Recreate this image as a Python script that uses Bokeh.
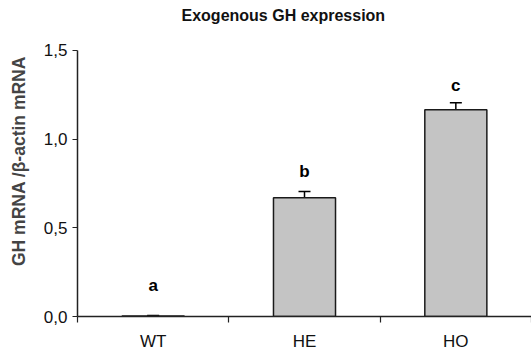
import numpy as np
from bokeh.plotting import figure
from bokeh.models import (ColumnDataSource, Whisker, TeeHead, Label, FixedTicker,
                          CustomJSTickFormatter)
from bokeh.core.properties import value
from bokeh.embed import file_html
from bokeh.resources import INLINE

# ---- data ----
categories = ["WT", "HE", "HO"]
means = [0.003, 0.67, 1.165]
errors = [0.002, 0.035, 0.04]
letters = ["a", "b", "c"]
letter_gap = [0.17, 0.115, 0.095]
title_text = "Exogenous GH expression"
y_label = "GH mRNA /\u03b2-actin mRNA"
y_ticks = [0.0, 0.5, 1.0, 1.5]

FONT = "Liberation Sans"

xpos = np.arange(len(categories)) + 0.5
means_a = np.array(means)
err_a = np.array(errors)
src = ColumnDataSource(dict(
    x=xpos, top=means_a, upper=means_a + err_a, lower=means_a - err_a,
    ly=means_a + err_a + np.array(letter_gap), letter=letters,
))

p = figure(width=531, height=354, output_backend="svg", toolbar_location=None,
           x_range=(0, len(categories)), y_range=(0, 1.753),
           min_border_left=77, min_border_right=0, min_border_top=5,
           min_border_bottom=38)
p.outline_line_color = None
p.xgrid.grid_line_color = None
p.ygrid.grid_line_color = None
p.background_fill_color = "white"
p.border_fill_color = "white"

p.vbar(x="x", top="top", width=0.41, bottom=0, source=src,
       fill_color="#c4c4c4", line_color="#1a1a1a", line_width=1.5)

w = Whisker(base="x", upper="upper", lower="lower", source=src,
            line_color="black", line_width=1.5,
            upper_head=TeeHead(size=12, line_color="black", line_width=1.5),
            lower_head=TeeHead(size=12, line_color="black", line_width=1.5))
p.add_layout(w)

p.text(x="x", y="ly", text="letter", source=src, text_align="center",
       text_baseline="middle", text_font=value(FONT), text_font_style="bold",
       text_font_size="17px", text_color="black")

# x axis
p.xaxis.ticker = FixedTicker(ticks=list(xpos), minor_ticks=list(range(len(categories) + 1)))
p.xaxis.formatter = CustomJSTickFormatter(
    args=dict(cats=categories),
    code="const i = Math.floor(tick); return (Math.abs(tick - i - 0.5) < 1e-6 && i >= 0 && i < cats.length) ? cats[i] : '';")
p.xaxis.major_tick_line_color = None
p.xaxis.minor_tick_out = 6
p.xaxis.minor_tick_in = 0
p.xaxis.minor_tick_line_color = "#222222"
p.xaxis.minor_tick_line_width = 1.2
p.xaxis.axis_line_color = "#222222"
p.xaxis.axis_line_width = 1.5
p.xaxis.major_label_text_font = FONT
p.xaxis.major_label_text_font_size = "17px"
p.xaxis.major_label_text_color = "#111111"
p.xaxis.major_label_standoff = 9

# y axis
p.yaxis.ticker = FixedTicker(ticks=y_ticks)
p.yaxis.bounds = (y_ticks[0], y_ticks[-1])
p.yaxis.formatter = CustomJSTickFormatter(code="return tick.toFixed(1).replace('.', ',');")
p.yaxis.major_tick_out = 5
p.yaxis.major_tick_in = 0
p.yaxis.major_tick_line_color = "#222222"
p.yaxis.major_tick_line_width = 1.2
p.yaxis.minor_tick_line_color = None
p.yaxis.axis_line_color = "#222222"
p.yaxis.axis_line_width = 1.5
p.yaxis.major_label_text_font = FONT
p.yaxis.major_label_text_font_size = "17px"
p.yaxis.major_label_text_color = "#111111"
p.yaxis.major_label_standoff = 5
p.yaxis.axis_label = y_label
p.yaxis.axis_label_text_font = FONT
p.yaxis.axis_label_text_font_style = "bold"
p.yaxis.axis_label_text_font_size = "17.5px"
p.yaxis.axis_label_standoff = 12

title = Label(x=1.36, y=1.697, text=title_text, text_align="center",
              text_baseline="middle", text_font=FONT, text_font_style="bold",
              text_font_size="16px", text_color="#111111")
p.add_layout(title)

open("out.html", "w").write(file_html(p, INLINE))
